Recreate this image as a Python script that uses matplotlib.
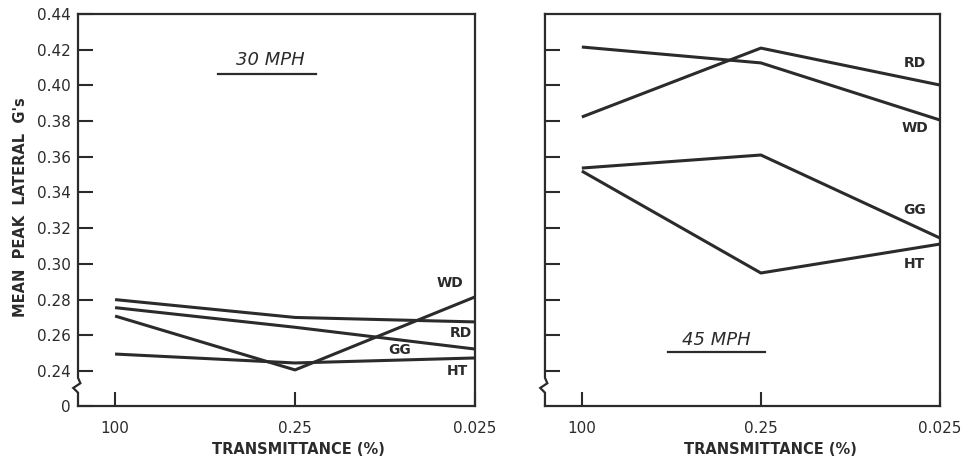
import matplotlib
matplotlib.use("Agg")
import matplotlib.pyplot as plt

# x categories (transmittance, %)
x_labels = ["100", "0.25", "0.025"]
x_pos = [0, 1, 2]

# 30 MPH series (mean peak lateral G's)
mph30 = {
    "RD": [0.280, 0.270, 0.2675],
    "GG": [0.2755, 0.2645, 0.2523],
    "WD": [0.2708, 0.2406, 0.2815],
    "HT": [0.2495, 0.2445, 0.2473],
}
# 45 MPH series
mph45 = {
    "WD": [0.4215, 0.4126, 0.3806],
    "RD": [0.3823, 0.4209, 0.4002],
    "GG": [0.3537, 0.3610, 0.3145],
    "HT": [0.3520, 0.2949, 0.3111],
}

# label anchors (data coords)
labels30 = {"WD": (1.86, 0.2893), "RD": (1.92, 0.2613), "GG": (1.58, 0.2518), "HT": (1.90, 0.2400)}
labels45 = {"RD": (1.86, 0.4126), "WD": (1.86, 0.3761), "GG": (1.86, 0.3302), "HT": (1.86, 0.3000)}

y_ticks = [0.24, 0.26, 0.28, 0.30, 0.32, 0.34, 0.36, 0.38, 0.40, 0.42]
y_bottom = 0.2204
y_top = 0.44

ink = "#2b2b2b"
plt.rcParams["font.family"] = "DejaVu Sans"

fig = plt.figure(figsize=(9.69, 4.59), dpi=100)
ax1 = fig.add_axes([0.0805, 0.1155, 0.4097, 0.854])
ax2 = fig.add_axes([0.5624, 0.1155, 0.4076, 0.854])


def style_axes(ax, show_ylabels, xlabel_x):
    ax.set_xlim(-0.206, 2.0)
    ax.set_ylim(y_bottom, y_top)
    ax.set_xticks(x_pos)
    ax.set_xticklabels(x_labels)
    ax.tick_params(axis="x", direction="in", length=10, width=1.5,
                   pad=11, labelsize=11, color=ink, labelcolor=ink)
    ax.tick_params(axis="y", direction="in", length=11, width=1.5,
                   pad=5, labelsize=11, color=ink, labelcolor=ink)
    if show_ylabels:
        ax.set_yticks([y_bottom] + y_ticks + [y_top])
        ax.set_yticklabels(["0"] + [f"{v:.2f}" for v in y_ticks] + ["0.44"])
    else:
        ax.set_yticks(y_ticks)
        ax.set_yticklabels([])
    for s in ["top", "right", "bottom"]:
        ax.spines[s].set_linewidth(1.6)
        ax.spines[s].set_color(ink)
    ax.spines["left"].set_visible(False)
    # left spine with a scale break
    ax.plot([0, 0, 0.006, -0.012, 0.0, 0.0],
            [1.0, 0.072, 0.058, 0.046, 0.034, 0.0],
            transform=ax.transAxes, color=ink, lw=1.6, clip_on=False,
            solid_joinstyle="miter")
    ax.set_xlabel("TRANSMITTANCE (%)", fontsize=10.5, fontweight="bold", color=ink)
    ax.xaxis.set_label_coords(xlabel_x, -0.092)


style_axes(ax1, True, 0.555)
style_axes(ax2, False, 0.572)

for name, vals in mph30.items():
    ax1.plot(x_pos, vals, color=ink, lw=2.2, solid_capstyle="butt")
    ax1.text(*labels30[name], name, fontsize=10, fontweight="bold", color=ink,
             ha="center", va="center")

for name, vals in mph45.items():
    ax2.plot(x_pos, vals, color=ink, lw=2.2, solid_capstyle="butt")
    ax2.text(*labels45[name], name, fontsize=10, fontweight="bold", color=ink,
             ha="center", va="center")

# panel titles with underline
ax1.text(0.484, 0.883, "30 MPH", transform=ax1.transAxes, fontsize=13,
         style="italic", color=ink, ha="center", va="center")
ax1.plot([0.353, 0.600], [0.847, 0.847], transform=ax1.transAxes, color=ink, lw=1.6)
ax2.text(0.435, 0.168, "45 MPH", transform=ax2.transAxes, fontsize=13,
         style="italic", color=ink, ha="center", va="center")
ax2.plot([0.311, 0.557], [0.138, 0.138], transform=ax2.transAxes, color=ink, lw=1.6)

fig.text(0.021, 0.548, "MEAN  PEAK  LATERAL  G's", rotation=90, fontsize=10.5,
         fontweight="bold", color=ink, ha="center", va="center")

fig.savefig("out.png", dpi=100)
